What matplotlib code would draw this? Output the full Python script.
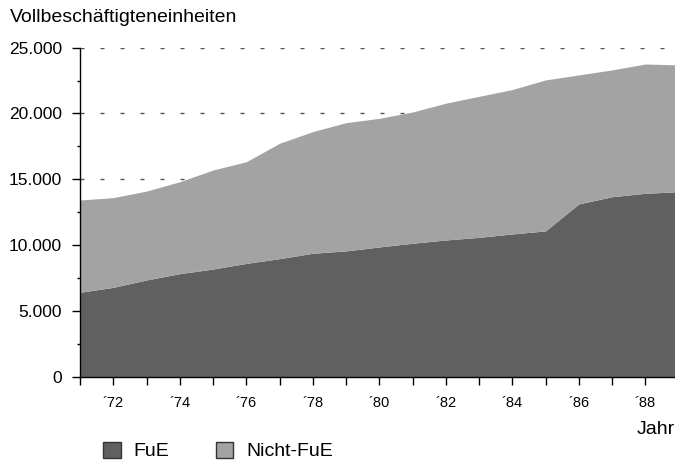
import numpy as np
import matplotlib
matplotlib.use("Agg")
import matplotlib.pyplot as plt
from matplotlib.patches import Patch
from matplotlib.ticker import MultipleLocator, FuncFormatter

plt.rcParams['font.family'] = ['Liberation Sans', 'DejaVu Sans']
plt.rcParams['font.size'] = 14

# values (Vollbeschaeftigteneinheiten)
jahre = [1971, 1972, 1973, 1974, 1975, 1976, 1977, 1978, 1979, 1980,
         1981, 1982, 1983, 1984, 1985, 1986, 1987, 1988, 1989]
fue = [6400, 6780, 7340, 7820, 8170, 8600, 8960, 9370, 9550, 9850,
       10130, 10380, 10580, 10840, 11070, 13120, 13670, 13930, 14050]
gesamt = [13420, 13600, 14100, 14810, 15700, 16330, 17730, 18620, 19300, 19630,
          20110, 20780, 21300, 21820, 22550, 22930, 23310, 23760, 23690]
legende = ['FuE', 'Nicht-FuE']
farben = ['#606060', '#a3a3a3']

fig = plt.figure(figsize=(6.75, 4.61), dpi=100)
ax = fig.add_axes([80 / 675, (461 - 376.5) / 461, 598.5 / 675, 328.8 / 461])

# dashed grid lines behind the areas
for yv in range(5000, 25001, 5000):
    ax.axhline(yv, color='#555555', lw=1, dashes=(2.9, 11.5), zorder=0)

ax.fill_between(jahre, 0, fue, color=farben[0], lw=0, zorder=2)
ax.fill_between(jahre, fue, gesamt, color=farben[1], lw=0, zorder=2)

ax.set_xlim(1971, 1989)
ax.set_ylim(0, 25000)
for s in ['top', 'right']:
    ax.spines[s].set_visible(False)
for s in ['left', 'bottom']:
    ax.spines[s].set_linewidth(1)
    ax.spines[s].set_zorder(3)

ax.yaxis.set_major_locator(MultipleLocator(5000))
ax.yaxis.set_minor_locator(MultipleLocator(2500))
ax.yaxis.set_major_formatter(FuncFormatter(
    lambda v, p: '0' if v == 0 else f'{int(v):,}'.replace(',', '.')))
ax.tick_params(axis='y', which='major', length=6, width=1, pad=7, labelsize=12.5)
ax.tick_params(axis='y', which='minor', length=2.5, width=1)

ax.set_xticks([j for j in jahre if j % 2 == 0])
ax.set_xticks(jahre, minor=True)
ax.xaxis.set_major_formatter(FuncFormatter(lambda v, p: '\u00b4' + str(int(v))[2:]))
ax.tick_params(axis='x', which='both', length=6, width=1, pad=8, labelsize=10.5)

fig.text(10 / 675, (461 - 22) / 461, 'Vollbeschäftigteneinheiten', ha='left', va='baseline')
fig.text(675 / 675, (461 - 434) / 461, 'Jahr', ha='right', va='baseline')

handles = [Patch(facecolor=c, edgecolor='#333333', lw=1) for c in farben]
fig.legend(handles, legende, loc='center left', bbox_to_anchor=(103 / 675, (461 - 451) / 461),
           ncol=2, frameon=False, handlelength=0.9, handleheight=0.9,
           handletextpad=0.67, columnspacing=2.4, borderaxespad=0, borderpad=0)

fig.savefig('out.png', dpi=100)
